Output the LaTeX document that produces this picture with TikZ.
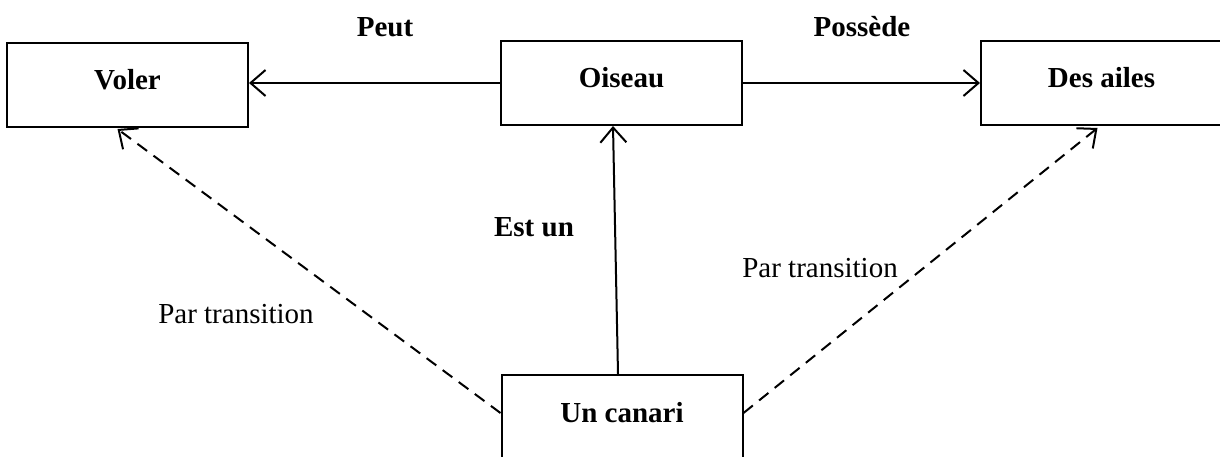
\documentclass[tikz,border=0pt]{standalone}
\usepackage{fontspec}
\setmainfont{Liberation Serif}
\usetikzlibrary{arrows.meta}
\begin{document}
\begin{tikzpicture}[x=1pt,y=-1pt,
  box/.style={draw,line width=2pt,minimum width=241pt,minimum height=84pt,inner sep=0pt,
    font=\fontsize{29}{34}\selectfont\bfseries,text height=20pt,text depth=10pt},
  lbl/.style={font=\fontsize{29}{34}\selectfont\bfseries,inner sep=0pt},
  plbl/.style={font=\fontsize{29}{34}\selectfont,inner sep=0pt},
  conn/.style={line width=2pt,-{Straight Barb[length=15pt,width=26pt]}},
  dconn/.style={conn,dash pattern=on 12pt off 8pt}]
\useasboundingbox (0,0) rectangle (1220,457);
\node[box] (voler) at (127.5,85) {Voler};
\node[box] (oiseau) at (621.5,83) {Oiseau};
\node[box] (ailes) at (1101.5,83) {Des ailes};
\node[box] (canari) at (622,417) {Un canari};
\node[lbl] (peut) at (385,27) {Peut};
\node[lbl] (possede) at (862,27) {Possède};
\node[lbl] (estun) at (534,227) {Est un};
\node[plbl] (parL) at (236,314) {Par transition};
\node[plbl] (parR) at (820,268) {Par transition};
\draw[conn] (oiseau.west) -- (oiseau.west -| voler.east);
\draw[conn] (oiseau.east) -- (oiseau.east -| ailes.west);
\draw[conn] ([xshift=-4pt]canari.north) -- ([xshift=-8.5pt]oiseau.south);
\draw[dconn] ([yshift=4pt]canari.west) -- ([xshift=-10pt,yshift=-1pt]voler.south);
\draw[dconn] ([yshift=4pt]canari.east) -- ([xshift=-4pt,yshift=-2pt]ailes.south);
\end{tikzpicture}
\end{document}
